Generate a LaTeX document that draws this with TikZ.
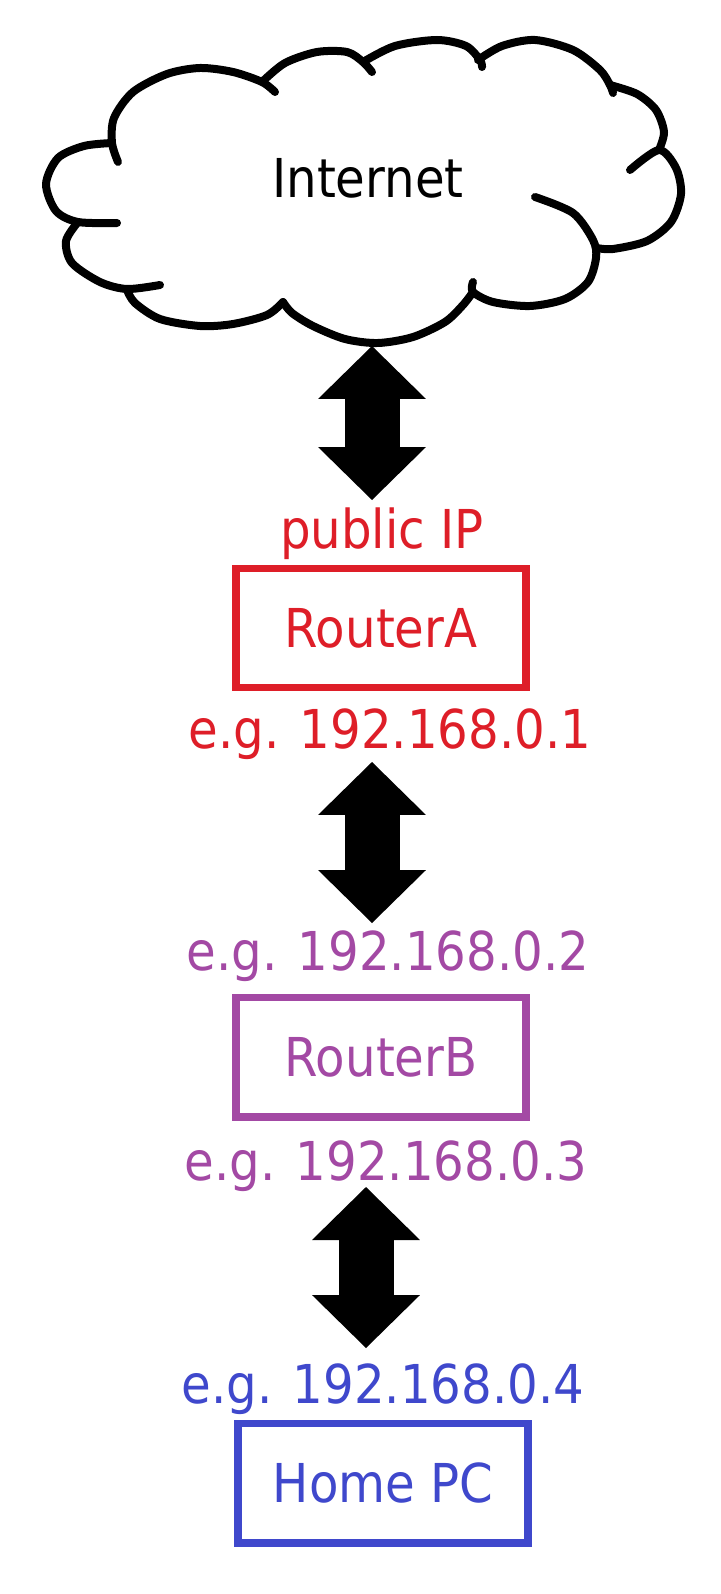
\documentclass[tikz,border=0pt]{standalone}
\usepackage{fontspec}
\setmainfont{DejaVu Sans}[FakeStretch=0.9]
\usepackage{xcolor}
\usepackage{tikz}
\usetikzlibrary{arrows.meta}
\definecolor{routera}{RGB}{222,30,40}
\definecolor{routerb}{RGB}{163,73,164}
\definecolor{homepc}{RGB}{63,72,204}

\begin{document}
\begin{tikzpicture}[
                x=0.02cm, y=-0.02cm,
                txt/.style={font=\fontsize{30.5}{36}\selectfont, anchor=base, inner sep=0pt},
                box/.style={rectangle, draw, line width=0.15cm, minimum width=5.81cm, minimum height=2.39cm, inner sep=0pt, font=\fontsize{30.5}{36}\selectfont},
                lobe/.style={line width=0.16cm, line cap=round, line join=round},
                arrow/.style={line width=1.1cm, {Triangle[length=1.06cm, width=2.16cm, line width=0pt]}-{Triangle[length=1.06cm, width=2.16cm, line width=0pt]}}
            ]
                \path[use as bounding box, fill=white] (0,0) rectangle (720,1594);

                \draw[lobe] plot[smooth] coordinates {(117,223) (78,222) (56,211) (46,184) (58,158) (84,146) (112,143)};
                \draw[lobe] plot[smooth] coordinates {(118,162) (112,143) (114,118) (133,92) (167,74) (200,68) (233,72) (262,82) (275,92)};
                \draw[lobe] plot[smooth] coordinates {(262,82) (285,63) (317,52) (347,52) (363,62) (372,72)};
                \draw[lobe] plot[smooth] coordinates {(363,62) (395,46) (437,40) (466,46) (480,60) (482,67)};
                \draw[lobe] plot[smooth] coordinates {(478,60) (502,46) (535,40) (573,50) (600,70) (610,85) (613,93)};
                \draw[lobe] plot[smooth] coordinates {(610,85) (637,94) (656,110) (664,132) (659,150)};
                \draw[lobe] plot[smooth] coordinates {(630,170) (659,150) (676,168) (681,194) (671,222) (647,241) (613,249) (597,248)};
                \draw[lobe] plot[smooth] coordinates {(535,197) (573,213) (593,240) (596,258) (588,282) (565,299) (530,306) (493,302) (473,292) (473,282)};
                \draw[lobe] plot[smooth] coordinates {(473,292) (463,305) (445,322) (413,337) (378,343) (345,339) (313,326) (292,313) (283,302)};
                \draw[lobe] plot[smooth] coordinates {(283,302) (267,315) (233,324) (200,326) (160,319) (135,303) (127,290)};
                \draw[lobe] plot[smooth] coordinates {(78,222) (66,241) (72,263) (100,282) (127,289) (160,285)};

                \node[txt] (inet) at (368,198) {Internet};
                \coordinate (cbot) at (372,346);
                \coordinate (pubtop) at (372,500);

                \node[txt, text=routera] (pub) at (382,548) {public IP};
                \node[box, draw=routera, text=routera] (ra) at (381,628) {RouterA};
                \node[txt, text=routera] (ipa) at (390,748) {e.g. 192.168.0.1};
                \coordinate (ipabot) at (372,762);
                \coordinate (ipbtop) at (372,923);

                \node[txt, text=routerb] (ipb) at (388,970) {e.g. 192.168.0.2};
                \node[box, draw=routerb, text=routerb] (rb) at (381,1057) {RouterB};
                \node[txt, text=routerb] (ipc) at (386,1180) {e.g. 192.168.0.3};
                \coordinate (ipcbot) at (366,1187);
                \coordinate (ipdtop) at (366,1348);

                \node[txt, text=homepc] (ipd) at (383,1403) {e.g. 192.168.0.4};
                \node[box, draw=homepc, text=homepc] (pc) at (383,1483) {Home PC};

                \draw[arrow] (cbot) -- (pubtop);
                \draw[arrow] (ipabot) -- (ipbtop);
                \draw[arrow] (ipcbot) -- (ipdtop);
            \end{tikzpicture}
\end{document}
